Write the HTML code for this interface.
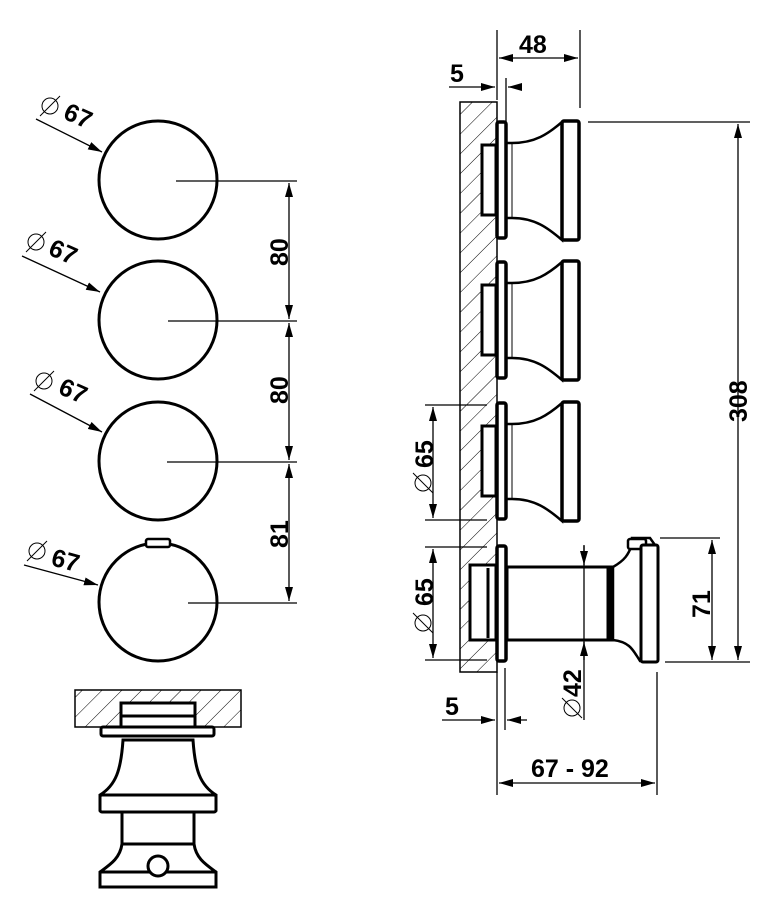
<!DOCTYPE html>
<html><head><meta charset="utf-8"><style>html,body{margin:0;padding:0;background:#fff}svg{display:block}text{font-family:"Liberation Sans",sans-serif;font-weight:bold;fill:#000}</style></head>
<body>
<svg width="757" height="900" viewBox="0 0 757 900" xmlns="http://www.w3.org/2000/svg">
<defs>
<pattern id="h" patternUnits="userSpaceOnUse" width="14" height="14" patternTransform="rotate(45)"><line x1="0" y1="0" x2="0" y2="14" stroke="#000" stroke-width="1"/></pattern>
<marker id="a" markerWidth="14" markerHeight="8" refX="14" refY="4" orient="auto-start-reverse" markerUnits="userSpaceOnUse"><path d="M0,0 L14,4 L0,8z" fill="#000"/></marker>
<g id="knob" fill="#fff" stroke="#000">
<rect x="482" y="23" width="14" height="70" stroke-width="3"/>
<path d="M506,21 L512,21 C535,21 548,12 562,0 L562,118 C548,106 535,96 512,96 L506,96" stroke-width="2.5"/>
<line x1="512" y1="21" x2="512" y2="96" stroke-width="1"/>
<rect x="497" y="0" width="9" height="116" rx="2" stroke-width="3.5"/>
<rect x="562" y="-1" width="17" height="119" rx="2" stroke-width="3.5"/>
</g>
<g id="dia"><circle cx="0" cy="0" r="8" fill="none" stroke="#000" stroke-width="1"/><line x1="-10" y1="10" x2="10" y2="-10" stroke="#000" stroke-width="1"/></g>
</defs>

<g fill="none" stroke="#000" stroke-width="3">
<circle cx="158" cy="180" r="59"/>
<circle cx="158" cy="320" r="59"/>
<circle cx="158" cy="461" r="59"/>
<circle cx="158" cy="602" r="59"/>
</g>
<rect x="146" y="539" width="24" height="8" rx="2" fill="#fff" stroke="#000" stroke-width="2.5"/>
<g stroke="#000" stroke-width="1.3">
<line x1="176" y1="181" x2="297" y2="181"/>
<line x1="168" y1="321" x2="297" y2="321"/>
<line x1="167" y1="462" x2="297" y2="462"/>
<line x1="188" y1="603" x2="297" y2="603"/>
<line x1="289" y1="183" x2="289" y2="319" marker-start="url(#a)" marker-end="url(#a)"/>
<line x1="289" y1="323" x2="289" y2="460" marker-start="url(#a)" marker-end="url(#a)"/>
<line x1="289" y1="464" x2="289" y2="601" marker-start="url(#a)" marker-end="url(#a)"/>
<line x1="36" y1="119" x2="102" y2="152" marker-end="url(#a)"/>
<line x1="22" y1="256" x2="100" y2="292" marker-end="url(#a)"/>
<line x1="30" y1="394" x2="102" y2="432" marker-end="url(#a)"/>
<line x1="24" y1="565" x2="98" y2="585" marker-end="url(#a)"/>
</g>
<use href="#dia" x="50" y="106"/><use href="#dia" x="36" y="242"/><use href="#dia" x="44" y="381"/><use href="#dia" x="37" y="551"/>
<g font-size="25">
<text transform="translate(62,118) rotate(24)">67</text>
<text transform="translate(47,254) rotate(24)">67</text>
<text transform="translate(57,393) rotate(24)">67</text>
<text transform="translate(50,565) rotate(15)">67</text>
<text transform="translate(288,266) rotate(-90)">80</text>
<text transform="translate(288,404) rotate(-90)">80</text>
<text transform="translate(288,548) rotate(-90)">81</text>
</g>

<rect x="75" y="690" width="166" height="37" fill="url(#h)" stroke="#000" stroke-width="1.5"/>
<g fill="#fff" stroke="#000" stroke-width="3">
<rect x="121" y="703" width="74" height="30"/>
<line x1="121" y1="716" x2="195" y2="716"/>
<path d="M123,740 L193,740 C195,770 200,785 216,795 L216,810 L100,810 L100,795 C116,785 121,770 123,740z"/>
<rect x="100" y="795" width="116" height="17" rx="2"/>
<rect x="122" y="812" width="72" height="32"/>
<path d="M122,844 L194,844 C196,858 205,864 216,872 L216,887 L100,887 L100,872 C111,864 120,858 122,844z"/>
<line x1="100" y1="872" x2="216" y2="872"/>
<rect x="101" y="727" width="113" height="9" rx="2"/>
<circle cx="158" cy="866" r="10"/>
</g>

<rect x="460" y="102" width="37" height="570" fill="url(#h)" stroke="#000" stroke-width="1.5"/>
<use href="#knob" x="0" y="122"/>
<use href="#knob" x="0" y="262"/>
<use href="#knob" x="0" y="403"/>

<g fill="#fff" stroke="#000" stroke-width="3">
<rect x="470" y="565" width="26" height="75"/>
<line x1="488" y1="568" x2="488" y2="638"/>
<rect x="507" y="567" width="106" height="73"/>
<line x1="609" y1="567" x2="609" y2="640" stroke-width="5"/>
<path d="M613,567 C625,560 628,555 632,545 L632,538 L650,538 L655,545 L655,661 L640,661 C633,650 630,642 613,640z" stroke-width="2.5"/>
<rect x="628" y="539" width="18" height="10" rx="2" stroke-width="2.5"/>
<rect x="641" y="545" width="17" height="117" rx="2" stroke-width="3"/>
<rect x="497" y="546" width="9" height="115" rx="2" stroke-width="3.5"/>
</g>

<g stroke="#000" stroke-width="1.3" fill="none">
<line x1="497" y1="30" x2="497" y2="100"/>
<line x1="580" y1="30" x2="580" y2="108"/>
<line x1="499" y1="58" x2="578" y2="58" marker-start="url(#a)" marker-end="url(#a)"/>
<line x1="506" y1="78" x2="506" y2="122"/>
<line x1="449" y1="87" x2="495" y2="87" marker-end="url(#a)"/>
<line x1="522" y1="87" x2="508" y2="87" marker-end="url(#a)"/>
<line x1="588" y1="122" x2="750" y2="122"/>
<line x1="665" y1="662" x2="750" y2="662"/>
<line x1="738" y1="124" x2="738" y2="660" marker-start="url(#a)" marker-end="url(#a)"/>
<line x1="660" y1="538" x2="720" y2="538"/>
<line x1="712" y1="540" x2="712" y2="660" marker-start="url(#a)" marker-end="url(#a)"/>
<line x1="425" y1="405" x2="487" y2="405"/>
<line x1="425" y1="520" x2="487" y2="520"/>
<line x1="433" y1="407" x2="433" y2="518" marker-start="url(#a)" marker-end="url(#a)"/>
<line x1="425" y1="547" x2="487" y2="547"/>
<line x1="425" y1="660" x2="487" y2="660"/>
<line x1="433" y1="549" x2="433" y2="658" marker-start="url(#a)" marker-end="url(#a)"/>
<line x1="584" y1="545" x2="584" y2="720"/>
<line x1="584" y1="546" x2="584" y2="565" marker-end="url(#a)"/>
<line x1="584" y1="660" x2="584" y2="642" marker-end="url(#a)"/>
<line x1="497" y1="672" x2="497" y2="795"/>
<line x1="505" y1="668" x2="505" y2="730"/>
<line x1="657" y1="672" x2="657" y2="795"/>
<line x1="442" y1="720" x2="495" y2="720" marker-end="url(#a)"/>
<line x1="527" y1="720" x2="507" y2="720" marker-end="url(#a)"/>
<line x1="499" y1="783" x2="655" y2="783" marker-start="url(#a)" marker-end="url(#a)"/>
</g>
<g transform="translate(423,483) rotate(-90)"><use href="#dia" x="0" y="0"/></g>
<g transform="translate(423,623) rotate(-90)"><use href="#dia" x="0" y="0"/></g>
<g transform="translate(572,708) rotate(-90)"><use href="#dia" x="0" y="0"/></g>
<g font-size="25">
<text x="519" y="53">48</text>
<text x="450" y="82">5</text>
<text x="445" y="715">5</text>
<text x="531" y="777">67 - 92</text>
<text transform="translate(747,422) rotate(-90)">308</text>
<text transform="translate(710,618) rotate(-90)">71</text>
<text transform="translate(433,468) rotate(-90)">65</text>
<text transform="translate(433,606) rotate(-90)">65</text>
<text transform="translate(581,697) rotate(-90)">42</text>
</g>
</svg>
</body></html>
